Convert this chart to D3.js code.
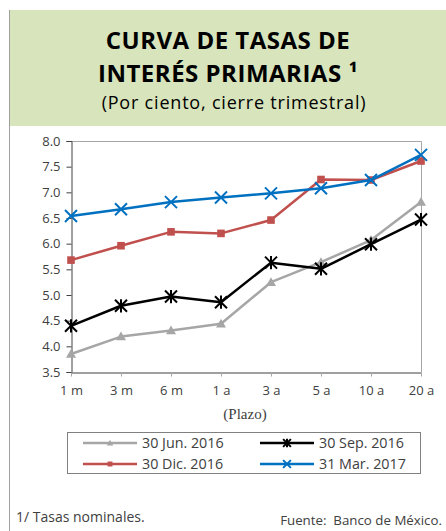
<!DOCTYPE html>
<html><head><meta charset="utf-8">
<script src="https://cdn.jsdelivr.net/npm/d3@7"></script>
<style>
html,body{margin:0;padding:0;background:#fff;}
svg{display:block;}
</style></head>
<body>
<script>
const categories = ["1 m","3 m","6 m","1 a","3 a","5 a","10 a","20 a"];
const seriesNames = ["30 Jun. 2016","30 Sep. 2016","30 Dic. 2016","31 Mar. 2017"];
const jun2016 = [3.85,4.19,4.31,4.44,5.25,5.64,6.07,6.81];
const sep2016 = [4.40,4.79,4.97,4.86,5.63,5.51,5.99,6.47];
const dic2016 = [5.68,5.96,6.23,6.20,6.46,7.25,7.24,7.61];
const mar2017 = [6.54,6.67,6.81,6.90,6.98,7.08,7.24,7.73];
const yTicks = [3.5,4.0,4.5,5.0,5.5,6.0,6.5,7.0,7.5,8.0];
const titleLines = ["CURVA DE TASAS DE","INTERÉS PRIMARIAS ¹"];

const W=446,H=531;
const svg=d3.select("body").append("svg").attr("width",W).attr("height",H);
const sans="'Open Sans', 'Noto Sans', sans-serif";

// header band
svg.append("rect").attr("x",9.5).attr("y",10).attr("width",W-9.5).attr("height",116).attr("fill","#d8e4bc");
svg.append("line").attr("x1",9.5).attr("x2",9.5).attr("y1",10).attr("y2",H).attr("stroke","#a0a0a0").attr("stroke-width",1);

svg.append("text").attr("x",228).attr("y",48.5).attr("text-anchor","middle")
  .attr("font-family",sans).attr("font-weight","bold").attr("font-size",24).attr("letter-spacing",0.5).attr("fill","#000").text(titleLines[0]);
svg.append("text").attr("x",228).attr("y",81.5).attr("text-anchor","middle")
  .attr("font-family",sans).attr("font-weight","bold").attr("font-size",24).attr("letter-spacing",0.5).attr("fill","#000").text(titleLines[1]);
svg.append("text").attr("x",234).attr("y",109).attr("text-anchor","middle")
  .attr("font-family",sans).attr("font-size",18).attr("letter-spacing",0.8).attr("fill","#000").text("(Por ciento, cierre trimestral)");

const x=d3.scalePoint().domain(categories).range([71,421]);
const y=d3.scaleLinear().domain([3.5,8.0]).range([372,141]);

// plot frame (top/right grey)
svg.append("path").attr("d",`M71,141.5H421.5V372`).attr("fill","none").attr("stroke","#a6a6a6").attr("stroke-width",1);

// y axis
const ya=svg.append("g").attr("transform","translate(71.5,0)")
  .call(d3.axisLeft(y).tickValues(yTicks).tickFormat(d3.format(".1f")).tickSize(5).tickPadding(6));
ya.select(".domain").attr("stroke","#404040");
ya.selectAll(".tick line").attr("stroke","#404040");
ya.selectAll("text").attr("font-family",sans).attr("font-size",13).attr("fill","#404040");

// x axis
const xa=svg.append("g").attr("transform","translate(0,372.5)")
  .call(d3.axisBottom(x).tickSize(4).tickSizeOuter(0).tickPadding(9));
xa.select(".domain").attr("stroke","#404040");
xa.selectAll(".tick line").attr("stroke","#a6a6a6");
xa.selectAll("text").attr("font-family",sans).attr("font-size",13).attr("fill","#404040");

svg.append("text").attr("x",245).attr("y",419).attr("text-anchor","middle")
  .attr("font-family","'Liberation Serif', 'DejaVu Serif', serif").attr("font-size",15).attr("fill","#404040").text("(Plazo)");

const series=[
  {name:seriesNames[0],values:jun2016,color:"#a6a6a6",marker:"tri"},
  {name:seriesNames[1],values:sep2016,color:"#000000",marker:"star"},
  {name:seriesNames[2],values:dic2016,color:"#c0504d",marker:"sq"},
  {name:seriesNames[3],values:mar2017,color:"#0070c0",marker:"x"}
];

function drawMarker(g,type,color,cx,cy,s){
  s=s||1;
  if(type==="tri"){
    const r=5*s;
    g.append("path").attr("d",`M${cx},${cy-r}L${cx+r*1.0},${cy+r*0.75}L${cx-r*1.0},${cy+r*0.75}Z`).attr("fill",color);
  } else if(type==="sq"){
    const r=3.8*s;
    g.append("rect").attr("x",cx-r).attr("y",cy-r).attr("width",2*r).attr("height",2*r).attr("fill",color);
  } else if(type==="x"){
    const r=6*s;
    g.append("path").attr("d",`M${cx-r},${cy-r}L${cx+r},${cy+r}M${cx-r},${cy+r}L${cx+r},${cy-r}`).attr("stroke",color).attr("stroke-width",2);
  } else if(type==="star"){
    const r=6*s;
    g.append("path").attr("d",`M${cx-r},${cy-r}L${cx+r},${cy+r}M${cx-r},${cy+r}L${cx+r},${cy-r}M${cx},${cy-r*1.1}L${cx},${cy+r*1.1}`).attr("stroke",color).attr("stroke-width",2);
  }
}

const line=d3.line().x((d,i)=>x(categories[i])).y(d=>y(d));
const order=[0,2,1,3];
order.forEach(k=>{
  const s=series[k];
  const g=svg.append("g");
  g.append("path").datum(s.values).attr("d",line).attr("fill","none").attr("stroke",s.color).attr("stroke-width",2.5).attr("stroke-linejoin","round");
  s.values.forEach((v,i)=>drawMarker(g,s.marker,s.color,x(categories[i]),y(v)));
});

// legend
svg.append("rect").attr("x",67.5).attr("y",432.5).attr("width",353).attr("height",41).attr("fill","#fff").attr("stroke","#808080").attr("stroke-width",1);
const legPos=[[83,443],[260,443],[83,464],[260,464]];
series.forEach((s,k)=>{
  const [lx,ly]=legPos[k];
  const g=svg.append("g");
  g.append("line").attr("x1",lx).attr("x2",lx+54).attr("y1",ly).attr("y2",ly).attr("stroke",s.color).attr("stroke-width",2.5);
  drawMarker(g,s.marker,s.color,lx+27,ly,0.65);
  g.append("text").attr("x",lx+59).attr("y",ly+5).attr("font-family",sans).attr("font-size",14.3).attr("fill","#404040").text(s.name);
});

svg.append("text").attr("x",16).attr("y",522).attr("font-family",sans).attr("font-size",14).attr("fill","#404040").text("1/ Tasas nominales.");
svg.append("text").attr("x",442).attr("y",525).attr("text-anchor","end").attr("font-family",sans).attr("font-size",13.3).attr("fill","#404040").attr("xml:space","preserve").text("Fuente:  Banco de México.");
</script>
</body></html>
